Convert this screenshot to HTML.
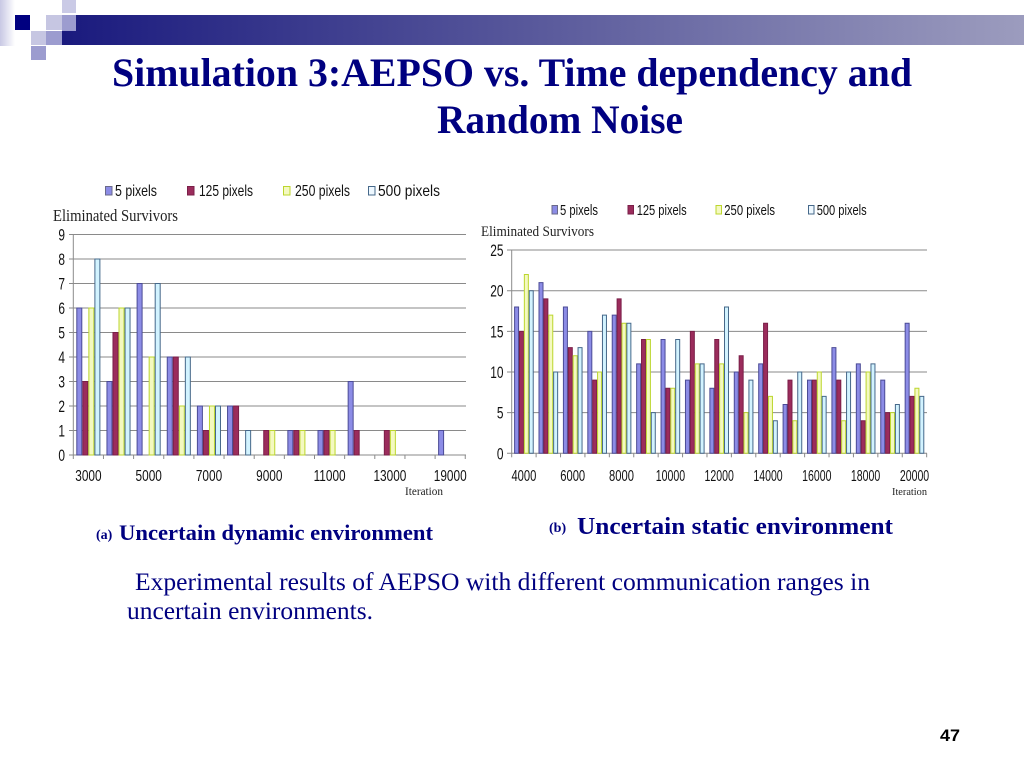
<!DOCTYPE html>
<html>
<head>
<meta charset="utf-8">
<style>
html,body{margin:0;padding:0;background:#fff;}
body{width:1024px;height:768px;overflow:hidden;}
svg{display:block;}
.ax{font-family:"Liberation Sans",Arial,sans-serif;fill:#111;}
.sf{font-family:"Liberation Serif","Times New Roman",serif;}
.grid line{stroke:#8a8a8a;stroke-width:1;}
.s0{fill:#8c8ce6;stroke:#4b4b96;}
.s1{fill:#9b2c5c;stroke:#7a1f48;}
.s2{fill:#f4f9c0;stroke:#bcd62e;}
.s3{fill:#d2f3ff;stroke:#46688a;}
.bars rect{vector-effect:non-scaling-stroke;stroke-width:1;}
</style>
</head>
<body>
<svg width="1024" height="768" viewBox="0 0 1024 768" xmlns="http://www.w3.org/2000/svg">
<defs>
<linearGradient id="barg" gradientUnits="userSpaceOnUse" x1="62" y1="0" x2="1024" y2="0">
<stop offset="0" stop-color="#1a1a7e"/>
<stop offset="0.5" stop-color="#5a5a9c"/>
<stop offset="1" stop-color="#9c9cbe"/>
</linearGradient>
<linearGradient id="leftg" x1="0" y1="0" x2="1" y2="0">
<stop offset="0" stop-color="#c8c8e4"/>
<stop offset="1" stop-color="#ffffff"/>
</linearGradient>
</defs>

<!-- top-left decoration -->
<rect x="0" y="0" width="15" height="46" fill="url(#leftg)"/>
<rect x="62" y="0" width="14" height="13" fill="#cacae6"/>
<rect x="15" y="15" width="15" height="15" fill="#000080"/>
<rect x="46" y="15" width="16" height="15" fill="#c6c6e2"/>
<rect x="62" y="15" width="14" height="16" fill="#9c9ccf"/>
<rect x="76" y="15" width="948" height="16" fill="url(#barg)"/>
<rect x="62" y="31" width="962" height="14" fill="url(#barg)"/>
<rect x="31" y="31" width="15" height="14" fill="#c6c6e2"/>
<rect x="46" y="31" width="16" height="14" fill="#9c9ccf"/>
<rect x="31" y="46" width="15" height="14" fill="#9c9ccf"/>

<!-- title -->
<text class="sf" x="112" y="86" font-size="40" font-weight="bold" fill="#000080" textLength="800" lengthAdjust="spacingAndGlyphs">Simulation 3:AEPSO vs. Time dependency and</text>
<text class="sf" x="437" y="133" font-size="40" font-weight="bold" fill="#000080" textLength="246" lengthAdjust="spacingAndGlyphs">Random Noise</text>

<!-- ================= LEFT CHART ================= -->
<rect x="105.5" y="186.5" width="6.5" height="8.5" fill="#8c8ce6" stroke="#6a6a8a"/>
<text class="ax" x="115" y="196" font-size="16" textLength="42" lengthAdjust="spacingAndGlyphs">5 pixels</text>
<rect x="187.5" y="186.5" width="6.5" height="8.5" fill="#9b2c5c" stroke="#7a1f48"/>
<text class="ax" x="199" y="196" font-size="16" textLength="54" lengthAdjust="spacingAndGlyphs">125 pixels</text>
<rect x="283.5" y="186.5" width="6.5" height="8.5" fill="#f4f9c0" stroke="#bcd62e"/>
<text class="ax" x="295" y="196" font-size="16" textLength="55" lengthAdjust="spacingAndGlyphs">250 pixels</text>
<rect x="368.5" y="186.5" width="6.5" height="8.5" fill="#eef8ff" stroke="#46688a"/>
<text class="ax" x="378" y="196" font-size="16" textLength="62" lengthAdjust="spacingAndGlyphs">500 pixels</text>

<text class="sf" x="53" y="221" font-size="16.5" fill="#222" textLength="125" lengthAdjust="spacingAndGlyphs">Eliminated Survivors</text>

<g class="grid">
<line x1="69" y1="430.5" x2="466" y2="430.5"/>
<line x1="69" y1="406" x2="466" y2="406"/>
<line x1="69" y1="381.5" x2="466" y2="381.5"/>
<line x1="69" y1="357" x2="466" y2="357"/>
<line x1="69" y1="332.5" x2="466" y2="332.5"/>
<line x1="69" y1="308" x2="466" y2="308"/>
<line x1="69" y1="283.5" x2="466" y2="283.5"/>
<line x1="69" y1="259" x2="466" y2="259"/>
<line x1="69" y1="234.5" x2="466" y2="234.5"/>
<line x1="69" y1="455" x2="466" y2="455"/>
<line x1="73.3" y1="234.5" x2="73.3" y2="455"/>
<line x1="73.3" y1="455" x2="73.3" y2="459"/>
<line x1="103.45" y1="455" x2="103.45" y2="459"/>
<line x1="133.6" y1="455" x2="133.6" y2="459"/>
<line x1="163.75" y1="455" x2="163.75" y2="459"/>
<line x1="193.9" y1="455" x2="193.9" y2="459"/>
<line x1="224.05" y1="455" x2="224.05" y2="459"/>
<line x1="254.2" y1="455" x2="254.2" y2="459"/>
<line x1="284.35" y1="455" x2="284.35" y2="459"/>
<line x1="314.5" y1="455" x2="314.5" y2="459"/>
<line x1="344.65" y1="455" x2="344.65" y2="459"/>
<line x1="374.8" y1="455" x2="374.8" y2="459"/>
<line x1="404.95" y1="455" x2="404.95" y2="459"/>
<line x1="435.1" y1="455" x2="435.1" y2="459"/>
<line x1="465.25" y1="455" x2="465.25" y2="459"/>
</g>

<g class="ax" font-size="17" text-anchor="end">
<text transform="translate(65,461) scale(0.7,1)">0</text>
<text transform="translate(65,436.5) scale(0.7,1)">1</text>
<text transform="translate(65,412) scale(0.7,1)">2</text>
<text transform="translate(65,387.5) scale(0.7,1)">3</text>
<text transform="translate(65,363) scale(0.7,1)">4</text>
<text transform="translate(65,338.5) scale(0.7,1)">5</text>
<text transform="translate(65,314) scale(0.7,1)">6</text>
<text transform="translate(65,289.5) scale(0.7,1)">7</text>
<text transform="translate(65,265) scale(0.7,1)">8</text>
<text transform="translate(65,240.5) scale(0.7,1)">9</text>
</g>

<g class="ax" font-size="16" text-anchor="middle">
<text transform="translate(88.4,481) scale(0.74,1)">3000</text>
<text transform="translate(148.7,481) scale(0.74,1)">5000</text>
<text transform="translate(209,481) scale(0.74,1)">7000</text>
<text transform="translate(269.3,481) scale(0.74,1)">9000</text>
<text transform="translate(329.6,481) scale(0.74,1)">11000</text>
<text transform="translate(389.9,481) scale(0.74,1)">13000</text>
<text transform="translate(450.2,481) scale(0.74,1)">19000</text>
</g>
<text class="sf" x="405" y="495" font-size="11.5" fill="#222" textLength="38" lengthAdjust="spacingAndGlyphs">Iteration</text>

<g class="bars" transform="translate(0.5,455) scale(1,-24.5)">
<g class="s0">
<rect x="76.30" y="0" width="5" height="6"/>
<rect x="106.45" y="0" width="5" height="3"/>
<rect x="136.60" y="0" width="5" height="7"/>
<rect x="166.75" y="0" width="5" height="4"/>
<rect x="196.90" y="0" width="5" height="2"/>
<rect x="227.05" y="0" width="5" height="2"/>
<rect x="287.35" y="0" width="5" height="1"/>
<rect x="317.50" y="0" width="5" height="1"/>
<rect x="347.65" y="0" width="5" height="3"/>
<rect x="438.10" y="0" width="5" height="1"/>
</g>
<g class="s1">
<rect x="82.33" y="0" width="5" height="3"/>
<rect x="112.48" y="0" width="5" height="5"/>
<rect x="172.78" y="0" width="5" height="4"/>
<rect x="202.93" y="0" width="5" height="1"/>
<rect x="233.08" y="0" width="5" height="2"/>
<rect x="263.23" y="0" width="5" height="1"/>
<rect x="293.38" y="0" width="5" height="1"/>
<rect x="323.53" y="0" width="5" height="1"/>
<rect x="353.68" y="0" width="5" height="1"/>
<rect x="383.83" y="0" width="5" height="1"/>
</g>
<g class="s2">
<rect x="88.36" y="0" width="5" height="6"/>
<rect x="118.51" y="0" width="5" height="6"/>
<rect x="148.66" y="0" width="5" height="4"/>
<rect x="178.81" y="0" width="5" height="2"/>
<rect x="208.96" y="0" width="5" height="2"/>
<rect x="269.26" y="0" width="5" height="1"/>
<rect x="299.41" y="0" width="5" height="1"/>
<rect x="329.56" y="0" width="5" height="1"/>
<rect x="389.86" y="0" width="5" height="1"/>
</g>
<g class="s3">
<rect x="94.39" y="0" width="5" height="8"/>
<rect x="124.54" y="0" width="5" height="6"/>
<rect x="154.69" y="0" width="5" height="7"/>
<rect x="184.84" y="0" width="5" height="4"/>
<rect x="214.99" y="0" width="5" height="2"/>
<rect x="245.14" y="0" width="5" height="1"/>
</g>
</g>

<!-- ================= RIGHT CHART ================= -->
<rect x="552" y="205.5" width="5.5" height="8.5" fill="#8c8ce6" stroke="#6a6a8a"/>
<text class="ax" x="560" y="215" font-size="15" textLength="38" lengthAdjust="spacingAndGlyphs">5 pixels</text>
<rect x="628" y="205.5" width="5.5" height="8.5" fill="#9b2c5c" stroke="#7a1f48"/>
<text class="ax" x="636.7" y="215" font-size="15" textLength="50" lengthAdjust="spacingAndGlyphs">125 pixels</text>
<rect x="716" y="205.5" width="5.5" height="8.5" fill="#f4f9c0" stroke="#bcd62e"/>
<text class="ax" x="724.3" y="215" font-size="15" textLength="50.7" lengthAdjust="spacingAndGlyphs">250 pixels</text>
<rect x="808.5" y="205.5" width="5.5" height="8.5" fill="#eef8ff" stroke="#46688a"/>
<text class="ax" x="816.7" y="215" font-size="15" textLength="50" lengthAdjust="spacingAndGlyphs">500 pixels</text>

<text class="sf" x="481" y="236" font-size="15" fill="#222" textLength="113" lengthAdjust="spacingAndGlyphs">Eliminated Survivors</text>

<g class="grid">
<line x1="507" y1="412.65" x2="927" y2="412.65"/>
<line x1="507" y1="372" x2="927" y2="372"/>
<line x1="507" y1="331.35" x2="927" y2="331.35"/>
<line x1="507" y1="290.7" x2="927" y2="290.7"/>
<line x1="507" y1="250.05" x2="927" y2="250.05"/>
<line x1="507" y1="453.3" x2="927" y2="453.3"/>
<line x1="511.7" y1="250.05" x2="511.7" y2="453.3"/>
<line x1="511.7" y1="453.3" x2="511.7" y2="457.3"/>
<line x1="536.11" y1="453.3" x2="536.11" y2="457.3"/>
<line x1="560.52" y1="453.3" x2="560.52" y2="457.3"/>
<line x1="584.93" y1="453.3" x2="584.93" y2="457.3"/>
<line x1="609.34" y1="453.3" x2="609.34" y2="457.3"/>
<line x1="633.75" y1="453.3" x2="633.75" y2="457.3"/>
<line x1="658.16" y1="453.3" x2="658.16" y2="457.3"/>
<line x1="682.57" y1="453.3" x2="682.57" y2="457.3"/>
<line x1="706.98" y1="453.3" x2="706.98" y2="457.3"/>
<line x1="731.39" y1="453.3" x2="731.39" y2="457.3"/>
<line x1="755.8" y1="453.3" x2="755.8" y2="457.3"/>
<line x1="780.21" y1="453.3" x2="780.21" y2="457.3"/>
<line x1="804.62" y1="453.3" x2="804.62" y2="457.3"/>
<line x1="829.03" y1="453.3" x2="829.03" y2="457.3"/>
<line x1="853.44" y1="453.3" x2="853.44" y2="457.3"/>
<line x1="877.85" y1="453.3" x2="877.85" y2="457.3"/>
<line x1="902.26" y1="453.3" x2="902.26" y2="457.3"/>
<line x1="926.67" y1="453.3" x2="926.67" y2="457.3"/>
</g>

<g class="ax" font-size="17" text-anchor="end">
<text transform="translate(503.5,459.3) scale(0.7,1)">0</text>
<text transform="translate(503.5,418.65) scale(0.7,1)">5</text>
<text transform="translate(503.5,378) scale(0.7,1)">10</text>
<text transform="translate(503.5,337.35) scale(0.7,1)">15</text>
<text transform="translate(503.5,296.7) scale(0.7,1)">20</text>
<text transform="translate(503.5,256.05) scale(0.7,1)">25</text>
</g>

<g class="ax" font-size="16" text-anchor="middle">
<text transform="translate(523.9,481) scale(0.7,1)">4000</text>
<text transform="translate(572.7,481) scale(0.7,1)">6000</text>
<text transform="translate(621.5,481) scale(0.7,1)">8000</text>
<text transform="translate(670.4,481) scale(0.66,1)">10000</text>
<text transform="translate(719.2,481) scale(0.66,1)">12000</text>
<text transform="translate(768,481) scale(0.66,1)">14000</text>
<text transform="translate(816.8,481) scale(0.66,1)">16000</text>
<text transform="translate(865.6,481) scale(0.66,1)">18000</text>
<text transform="translate(914.5,481) scale(0.66,1)">20000</text>
</g>
<text class="sf" x="892" y="495" font-size="11" fill="#222" textLength="35" lengthAdjust="spacingAndGlyphs">Iteration</text>

<g class="bars" transform="translate(0.45,453.3) scale(1,-8.13)">
<g class="s0">
<rect x="514.14" y="0" width="4" height="18"/>
<rect x="538.55" y="0" width="4" height="21"/>
<rect x="562.96" y="0" width="4" height="18"/>
<rect x="587.37" y="0" width="4" height="15"/>
<rect x="611.78" y="0" width="4" height="17"/>
<rect x="636.19" y="0" width="4" height="11"/>
<rect x="660.60" y="0" width="4" height="14"/>
<rect x="685.01" y="0" width="4" height="9"/>
<rect x="709.42" y="0" width="4" height="8"/>
<rect x="733.83" y="0" width="4" height="10"/>
<rect x="758.24" y="0" width="4" height="11"/>
<rect x="782.65" y="0" width="4" height="6"/>
<rect x="807.06" y="0" width="4" height="9"/>
<rect x="831.47" y="0" width="4" height="13"/>
<rect x="855.88" y="0" width="4" height="11"/>
<rect x="880.29" y="0" width="4" height="9"/>
<rect x="904.70" y="0" width="4" height="16"/>
</g>
<g class="s1">
<rect x="519.02" y="0" width="4" height="15"/>
<rect x="543.43" y="0" width="4" height="19"/>
<rect x="567.84" y="0" width="4" height="13"/>
<rect x="592.25" y="0" width="4" height="9"/>
<rect x="616.66" y="0" width="4" height="19"/>
<rect x="641.07" y="0" width="4" height="14"/>
<rect x="665.48" y="0" width="4" height="8"/>
<rect x="689.89" y="0" width="4" height="15"/>
<rect x="714.30" y="0" width="4" height="14"/>
<rect x="738.71" y="0" width="4" height="12"/>
<rect x="763.12" y="0" width="4" height="16"/>
<rect x="787.53" y="0" width="4" height="9"/>
<rect x="811.94" y="0" width="4" height="9"/>
<rect x="836.35" y="0" width="4" height="9"/>
<rect x="860.76" y="0" width="4" height="4"/>
<rect x="885.17" y="0" width="4" height="5"/>
<rect x="909.58" y="0" width="4" height="7"/>
</g>
<g class="s2">
<rect x="523.90" y="0" width="4" height="22"/>
<rect x="548.31" y="0" width="4" height="17"/>
<rect x="572.72" y="0" width="4" height="12"/>
<rect x="597.13" y="0" width="4" height="10"/>
<rect x="621.54" y="0" width="4" height="16"/>
<rect x="645.95" y="0" width="4" height="14"/>
<rect x="670.36" y="0" width="4" height="8"/>
<rect x="694.77" y="0" width="4" height="11"/>
<rect x="719.18" y="0" width="4" height="11"/>
<rect x="743.59" y="0" width="4" height="5"/>
<rect x="768.00" y="0" width="4" height="7"/>
<rect x="792.41" y="0" width="4" height="4"/>
<rect x="816.82" y="0" width="4" height="10"/>
<rect x="841.23" y="0" width="4" height="4"/>
<rect x="865.64" y="0" width="4" height="10"/>
<rect x="890.05" y="0" width="4" height="5"/>
<rect x="914.46" y="0" width="4" height="8"/>
</g>
<g class="s3">
<rect x="528.78" y="0" width="4" height="20"/>
<rect x="553.19" y="0" width="4" height="10"/>
<rect x="577.60" y="0" width="4" height="13"/>
<rect x="602.01" y="0" width="4" height="17"/>
<rect x="626.42" y="0" width="4" height="16"/>
<rect x="650.83" y="0" width="4" height="5"/>
<rect x="675.24" y="0" width="4" height="14"/>
<rect x="699.65" y="0" width="4" height="11"/>
<rect x="724.06" y="0" width="4" height="18"/>
<rect x="748.47" y="0" width="4" height="9"/>
<rect x="772.88" y="0" width="4" height="4"/>
<rect x="797.29" y="0" width="4" height="10"/>
<rect x="821.70" y="0" width="4" height="7"/>
<rect x="846.11" y="0" width="4" height="10"/>
<rect x="870.52" y="0" width="4" height="11"/>
<rect x="894.93" y="0" width="4" height="6"/>
<rect x="919.34" y="0" width="4" height="7"/>
</g>
</g>

<!-- captions -->
<text class="sf" x="96" y="539" font-size="14" font-weight="bold" fill="#000080">(a)</text>
<text class="sf" x="119" y="540" font-size="22" font-weight="bold" fill="#000080" textLength="314" lengthAdjust="spacingAndGlyphs">Uncertain dynamic environment</text>
<text class="sf" x="549" y="532" font-size="14" font-weight="bold" fill="#000080">(b)</text>
<text class="sf" x="577" y="534" font-size="24" font-weight="bold" fill="#000080" textLength="316" lengthAdjust="spacingAndGlyphs">Uncertain static environment</text>

<!-- body text -->
<text class="sf" x="135" y="590" font-size="25.5" fill="#000080" textLength="735" lengthAdjust="spacingAndGlyphs">Experimental results of AEPSO with different communication ranges in</text>
<text class="sf" x="127" y="619" font-size="25.5" fill="#000080" textLength="246" lengthAdjust="spacingAndGlyphs">uncertain environments.</text>

<!-- page number -->
<text x="940" y="741" font-family="Liberation Sans, Arial, sans-serif" font-size="16.5" font-weight="bold" fill="#000" textLength="20" lengthAdjust="spacingAndGlyphs">47</text>
</svg>
</body>
</html>
